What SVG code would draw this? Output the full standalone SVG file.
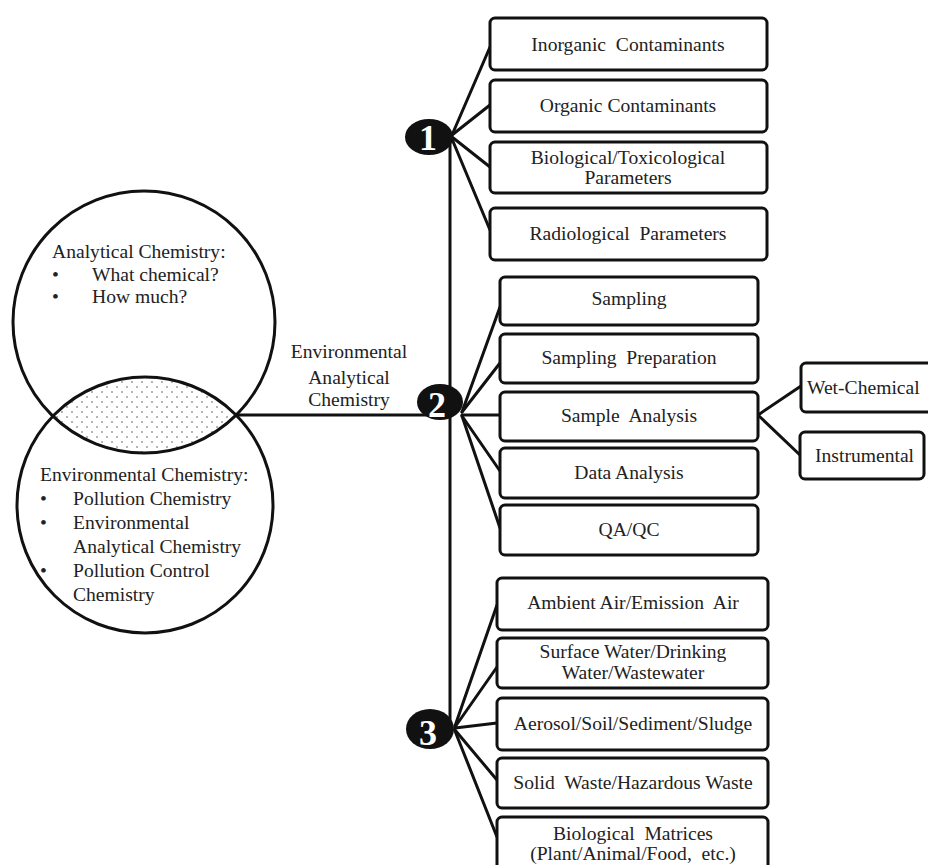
<svg xmlns="http://www.w3.org/2000/svg" width="928" height="865" viewBox="0 0 928 865">
<defs>
<pattern id="dots" x="0" y="0" width="10" height="10" patternUnits="userSpaceOnUse">
<circle cx="2" cy="2" r="0.8" fill="#555"/>
<circle cx="7" cy="7" r="0.8" fill="#555"/>
</pattern>
<clipPath id="topClip"><circle cx="144" cy="322" r="131"/></clipPath>
<style>
.box{fill:#fff;stroke:#111;stroke-width:3}
.t{font-family:"Liberation Serif","Times New Roman",serif;font-size:19.6px;fill:#222;white-space:pre}
.c{text-anchor:middle}
.ln{stroke:#111;stroke-width:3;fill:none;stroke-linecap:round}
.circ{fill:none;stroke:#111;stroke-width:3}
.badge{fill:#111}
.num{font-family:"Liberation Serif","Times New Roman",serif;font-size:36px;font-weight:bold;fill:#fff;text-anchor:middle}
</style>
</defs>
<rect width="928" height="865" fill="#fff"/>

<g id="venn">
<circle cx="145" cy="505" r="128" fill="url(#dots)" clip-path="url(#topClip)"/>
<circle class="circ" cx="144" cy="322" r="131"/>
<circle class="circ" cx="145" cy="505" r="128"/>
<text class="t" x="52" y="258">Analytical Chemistry:</text>
<text class="t" x="52" y="281">•</text>
<text class="t" x="92" y="281">What chemical?</text>
<text class="t" x="52" y="303">•</text>
<text class="t" x="92" y="303">How much?</text>
<text class="t" x="40" y="481">Environmental Chemistry:</text>
<text class="t" x="40" y="505">•</text>
<text class="t" x="73" y="505">Pollution Chemistry</text>
<text class="t" x="40" y="529">•</text>
<text class="t" x="73" y="529">Environmental</text>
<text class="t" x="73" y="553">Analytical Chemistry</text>
<text class="t" x="40" y="577">•</text>
<text class="t" x="73" y="577">Pollution Control</text>
<text class="t" x="73" y="601">Chemistry</text>
</g>

<g id="connectors">
<line class="ln" x1="238" y1="415" x2="440" y2="415"/>
<line class="ln" x1="450" y1="137" x2="450" y2="729"/>
<line class="ln" x1="452" y1="135" x2="490" y2="47"/>
<line class="ln" x1="452" y1="135" x2="490" y2="105"/>
<line class="ln" x1="452" y1="137" x2="490" y2="167"/>
<line class="ln" x1="452" y1="139" x2="490" y2="230"/>
<line class="ln" x1="462" y1="412" x2="500" y2="307"/>
<line class="ln" x1="462" y1="412" x2="500" y2="363"/>
<line class="ln" x1="462" y1="415" x2="500" y2="415"/>
<line class="ln" x1="462" y1="416" x2="500" y2="471"/>
<line class="ln" x1="462" y1="416" x2="500" y2="528"/>
<line class="ln" x1="758" y1="415" x2="801" y2="386"/>
<line class="ln" x1="758" y1="415" x2="800" y2="455"/>
<line class="ln" x1="455" y1="726" x2="497" y2="605"/>
<line class="ln" x1="455" y1="727" x2="497" y2="667"/>
<line class="ln" x1="455" y1="728" x2="497" y2="723"/>
<line class="ln" x1="455" y1="730" x2="497" y2="780"/>
<line class="ln" x1="455" y1="731" x2="497" y2="837"/>
</g>

<g id="env-analytical-label">
<text class="t c" x="349" y="358">Environmental</text>
<text class="t c" x="349" y="384">Analytical</text>
<text class="t c" x="349" y="406">Chemistry</text>
</g>

<g id="badge1"><ellipse class="badge" cx="429" cy="137" rx="24" ry="18"/><text class="num" x="428" y="150">1</text></g>
<g id="badge2"><ellipse class="badge" cx="440" cy="402" rx="23" ry="18"/><text class="num" x="437" y="417">2</text></g>
<g id="badge3"><ellipse class="badge" cx="430" cy="729" rx="24" ry="20"/><text class="num" x="428" y="745">3</text></g>

<g id="inorganic"><rect class="box" x="490" y="18" width="277" height="52" rx="5"/><text class="t c" x="628" y="51">Inorganic  Contaminants</text></g>
<g id="organic"><rect class="box" x="490" y="80" width="277" height="52" rx="5"/><text class="t c" x="628" y="112">Organic Contaminants</text></g>
<g id="biotox"><rect class="box" x="490" y="142" width="277" height="51" rx="5"/><text class="t c" x="628" y="164">Biological/Toxicological</text><text class="t c" x="628" y="184">Parameters</text></g>
<g id="radio"><rect class="box" x="490" y="208" width="277" height="52" rx="5"/><text class="t c" x="628" y="240">Radiological  Parameters</text></g>

<g id="sampling"><rect class="box" x="500" y="277" width="258" height="48" rx="5"/><text class="t c" x="629" y="305">Sampling</text></g>
<g id="samplingprep"><rect class="box" x="500" y="334" width="258" height="49" rx="5"/><text class="t c" x="629" y="364">Sampling  Preparation</text></g>
<g id="sampleanalysis"><rect class="box" x="500" y="392" width="258" height="49" rx="5"/><text class="t c" x="629" y="422">Sample  Analysis</text></g>
<g id="dataanalysis"><rect class="box" x="500" y="448" width="258" height="50" rx="5"/><text class="t c" x="629" y="479">Data Analysis</text></g>
<g id="qaqc"><rect class="box" x="500" y="505" width="258" height="50" rx="5"/><text class="t c" x="629" y="536">QA/QC</text></g>

<g id="wetchemical"><rect class="box" x="801" y="363" width="140" height="49" rx="5"/><text class="t" x="807" y="394">Wet-Chemical</text></g>
<g id="instrumental"><rect class="box" x="800" y="432" width="124" height="47" rx="5"/><text class="t" x="815" y="462">Instrumental</text></g>

<g id="ambient"><rect class="box" x="497" y="578" width="271" height="52" rx="5"/><text class="t c" x="633" y="609">Ambient Air/Emission  Air</text></g>
<g id="water"><rect class="box" x="497" y="638" width="271" height="50" rx="5"/><text class="t c" x="633" y="658">Surface Water/Drinking</text><text class="t c" x="633" y="679">Water/Wastewater</text></g>
<g id="aerosol"><rect class="box" x="497" y="698" width="271" height="52" rx="5"/><text class="t c" x="633" y="730">Aerosol/Soil/Sediment/Sludge</text></g>
<g id="solidwaste"><rect class="box" x="497" y="758" width="271" height="50" rx="5"/><text class="t c" x="633" y="789">Solid  Waste/Hazardous Waste</text></g>
<g id="biomatrices"><rect class="box" x="497" y="817" width="271" height="60" rx="5"/><text class="t c" x="633" y="840">Biological  Matrices</text><text class="t c" x="633" y="860">(Plant/Animal/Food,  etc.)</text></g>
</svg>
